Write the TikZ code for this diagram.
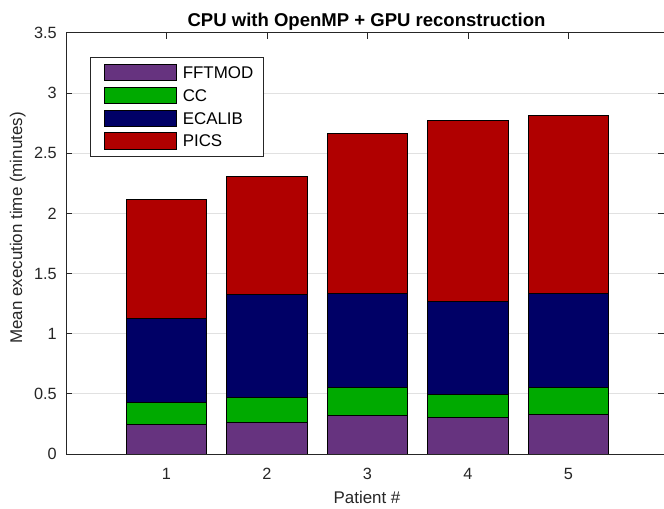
\documentclass[tikz,border=0pt]{standalone}
\usepackage{fontspec}
\setmainfont{Liberation Sans}
\definecolor{cFFT}{RGB}{102,51,127}
\definecolor{cCC}{RGB}{0,170,0}
\definecolor{cEC}{RGB}{0,0,102}
\definecolor{cPI}{RGB}{176,0,0}
\definecolor{axc}{RGB}{38,38,38}
\definecolor{gridc}{RGB}{225,225,225}
\tikzset{
  ticklab/.style={inner sep=0pt, text=axc, font=\fontsize{12.2pt}{14pt}\selectfont},
  axlab/.style={inner sep=0pt, text=axc, font=\fontsize{12.7pt}{15pt}\selectfont},
  titlelab/.style={inner sep=0pt, text=black, font=\fontsize{13.9pt}{16pt}\selectfont\bfseries},
  leglab/.style={inner sep=0pt, text=black, font=\fontsize{12.7pt}{15pt}\selectfont},
  barbox/.style={draw=black, line width=0.75pt},
  axline/.style={draw=axc, line width=0.75pt},
  gridline/.style={draw=gridc, line width=0.75pt},
}
\begin{document}
\begin{tikzpicture}[x=0.75pt,y=-0.75pt]
\useasboundingbox (0,0) rectangle (664,508);
\fill[white] (0,0) rectangle (664,508);
\begin{scope}[shift={(66,454)}, x=75.375pt, y=90.225pt]
  % grid
  \foreach \v in {0.5,1,...,3.01}
    \draw[gridline] (0,\v) -- (5.95,\v);
  % bars
  \foreach \i/\a/\b/\c/\d in {1/0.249/0.426/1.13/2.114,
                               2/0.263/0.468/1.33/2.305,
                               3/0.322/0.551/1.336/2.668,
                               4/0.305/0.493/1.266/2.771,
                               5/0.330/0.554/1.336/2.816}{
    \fill[cFFT] (\i-0.4,0) rectangle (\i+0.4,\a);
    \fill[cCC] (\i-0.4,\a) rectangle (\i+0.4,\b);
    \fill[cEC] (\i-0.4,\b) rectangle (\i+0.4,\c);
    \fill[cPI] (\i-0.4,\c) rectangle (\i+0.4,\d);
    \draw[barbox] (\i-0.4,0) rectangle (\i+0.4,\a);
    \draw[barbox] (\i-0.4,\a) rectangle (\i+0.4,\b);
    \draw[barbox] (\i-0.4,\b) rectangle (\i+0.4,\c);
    \draw[barbox] (\i-0.4,\c) rectangle (\i+0.4,\d);
  }
  % axes
  \draw[axline] (0,3.5) -- (0,0) -- (5.95,0);
  \draw[axline] (0,3.5) -- (5.95,3.5);
  % y ticks and labels
  \foreach \v/\t in {0/0,0.5/0.5,1/1,1.5/1.5,2/2,2.5/2.5,3/3,3.5/3.5}{
    \draw[axline] (0,\v) -- (0.06,\v);
    \draw[axline] (5.95,\v) -- (5.89,\v);
    \node[ticklab, anchor=east] (yl\t) at (-0.09,\v) {\t};
  }
  % x ticks and labels
  \foreach \i in {1,...,5}{
    \draw[axline] (\i,3.5) -- (\i,3.45);
    \node[ticklab, anchor=north] (xl\i) at (\i,-0.119) {\i};
  }
\end{scope}
% axis labels and title
\node[titlelab, anchor=base] (title) at (366.5,26) {CPU with OpenMP + GPU reconstruction};
\node[axlab, anchor=base] (xlabel) at (367,503) {Patient \#};
\node[axlab, anchor=base, rotate=90] (ylabel) at (22,228) {Mean execution time (minutes)};
% legend
\draw[draw=axc, fill=white, line width=0.75pt] (90,57) rectangle (263,156.3);
\foreach \c/\y/\n/\t in {cFFT/72.5/a/FFTMOD, cCC/95.5/b/CC, cEC/118.2/c/ECALIB, cPI/140.9/d/PICS}{
  \draw[barbox, fill=\c] (104.3,\y-8.2) rectangle (176.3,\y+8.2);
  \node[leglab, anchor=west] (leg\n) at (182.5,\y) {\t};
}
\end{tikzpicture}
\end{document}
